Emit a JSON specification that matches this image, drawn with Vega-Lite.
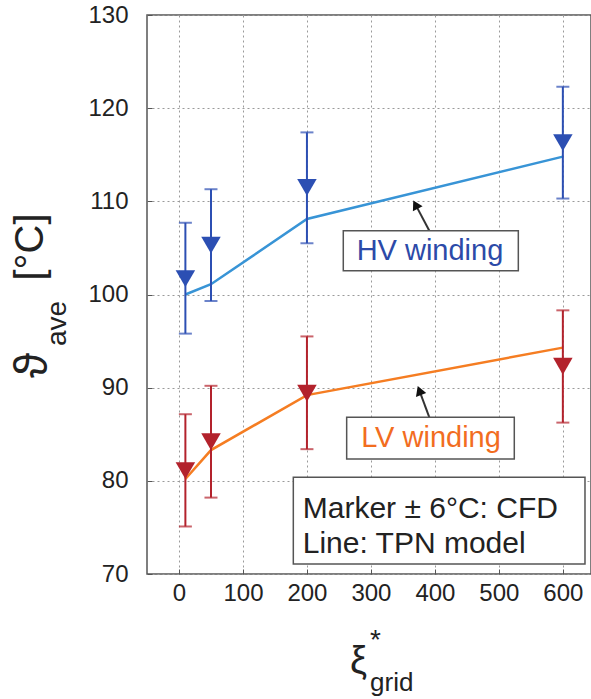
{
  "$schema": "https://vega.github.io/schema/vega-lite/v6.json",
  "width": 444,
  "height": 559,
  "autosize": "none",
  "padding": {"left": 147, "top": 15, "right": 0, "bottom": 125},
  "background": "white",
  "config": {
    "font": "Liberation Sans",
    "view": {"stroke": "#555", "strokeWidth": 1.5},
    "axis": {
      "domain": false,
      "grid": true,
      "gridDash": [2, 3],
      "gridColor": "#9a9a9a",
      "gridWidth": 1,
      "tickSize": -5,
      "tickColor": "#555",
      "labelFontSize": 24,
      "labelColor": "#222",
      "labelFont": "Liberation Sans"
    }
  },
  "datasets": {
    "cfd": [
      {"series": "HV", "xi": 10, "t": 101.7, "lo": 95.8, "hi": 107.7},
      {"series": "HV", "xi": 50, "t": 105.3, "lo": 99.3, "hi": 111.3},
      {"series": "HV", "xi": 200, "t": 111.5, "lo": 105.5, "hi": 117.4},
      {"series": "HV", "xi": 600, "t": 116.3, "lo": 110.3, "hi": 122.3},
      {"series": "LV", "xi": 10, "t": 81.1, "lo": 75.1, "hi": 87.15},
      {"series": "LV", "xi": 50, "t": 84.2, "lo": 78.2, "hi": 90.2},
      {"series": "LV", "xi": 200, "t": 89.4, "lo": 83.4, "hi": 95.5},
      {"series": "LV", "xi": 600, "t": 92.3, "lo": 86.25, "hi": 98.3}
    ],
    "tpn": [
      {"series": "HV", "xi": 10, "t": 100.0},
      {"series": "HV", "xi": 50, "t": 101.1},
      {"series": "HV", "xi": 200, "t": 108.1},
      {"series": "HV", "xi": 600, "t": 114.8},
      {"series": "LV", "xi": 10, "t": 80.2},
      {"series": "LV", "xi": 50, "t": 83.3},
      {"series": "LV", "xi": 200, "t": 89.2},
      {"series": "LV", "xi": 600, "t": 94.3}
    ],
    "boxes": [
      {"name": "HV", "x1": 256.8, "x2": 530.4, "y1": 102.55, "y2": 106.85},
      {"name": "LV", "x1": 262.1, "x2": 524.1, "y1": 82.34, "y2": 86.82},
      {"name": "legend", "x1": 178.7, "x2": 634.6, "y1": 71.07, "y2": 80.38}
    ],
    "arrows": [
      {"name": "HV", "x1": 391.3, "y1": 106.85, "x2": 369.7, "y2": 109.65, "angle": 332},
      {"name": "LV", "x1": 391.3, "y1": 86.82, "x2": 375.8, "y2": 89.69, "angle": 339.6}
    ],
    "boxtext": [
      {"label": "HV winding", "x": 392.3, "y": 104.7, "series": "HV"},
      {"label": "LV winding", "x": 393.9, "y": 84.6, "series": "LV"}
    ],
    "legendtext": [
      {"label": "Marker ± 6°C: CFD", "x": 193.4, "y": 76.0},
      {"label": "Line: TPN model", "x": 193.4, "y": 72.25}
    ]
  },
  "layer": [
    {
      "data": {"name": "tpn"},
      "mark": {"type": "line", "strokeWidth": 2.5, "clip": true},
      "encoding": {
        "x": {
          "field": "xi", "type": "quantitative",
          "scale": {"domain": [-50, 644], "nice": false, "zero": false},
          "axis": {"values": [0, 100, 200, 300, 400, 500, 600], "title": null, "labelPadding": 12}
        },
        "y": {
          "field": "t", "type": "quantitative",
          "scale": {"domain": [70, 130], "nice": false, "zero": false},
          "axis": {"values": [70, 80, 90, 100, 110, 120, 130], "title": null, "labelPadding": 24}
        },
        "detail": {"field": "series"},
        "color": {
          "field": "series", "type": "nominal",
          "scale": {"domain": ["HV", "LV"], "range": ["#3894d6", "#f57d22"]},
          "legend": null
        }
      }
    },
    {
      "data": {"name": "cfd"},
      "mark": {"type": "rule", "strokeWidth": 2},
      "encoding": {
        "x": {"field": "xi", "type": "quantitative", "title": null},
        "y": {"field": "lo", "type": "quantitative", "title": null},
        "y2": {"field": "hi"},
        "stroke": {
          "field": "series", "type": "nominal",
          "scale": {"domain": ["HV", "LV"], "range": ["#2c4fb3", "#b3222c"]},
          "legend": null
        }
      }
    },
    {
      "data": {"name": "cfd"},
      "mark": {"type": "tick", "orient": "horizontal", "size": 13, "thickness": 2},
      "encoding": {
        "x": {"field": "xi", "type": "quantitative", "title": null},
        "y": {"field": "lo", "type": "quantitative", "title": null},
        "fill": {
          "field": "series", "type": "nominal",
          "scale": {"domain": ["HV", "LV"], "range": ["#2c4fb3", "#b3222c"]},
          "legend": null
        }
      }
    },
    {
      "data": {"name": "cfd"},
      "mark": {"type": "tick", "orient": "horizontal", "size": 13, "thickness": 2},
      "encoding": {
        "x": {"field": "xi", "type": "quantitative", "title": null},
        "y": {"field": "hi", "type": "quantitative", "title": null},
        "fill": {
          "field": "series", "type": "nominal",
          "scale": {"domain": ["HV", "LV"], "range": ["#2c4fb3", "#b3222c"]},
          "legend": null
        }
      }
    },
    {
      "data": {"name": "cfd"},
      "mark": {"type": "point", "shape": "triangle-down", "filled": true, "size": 380, "opacity": 1, "strokeWidth": 0},
      "encoding": {
        "x": {"field": "xi", "type": "quantitative", "title": null},
        "y": {"field": "t", "type": "quantitative", "title": null},
        "fill": {
          "field": "series", "type": "nominal",
          "scale": {"domain": ["HV", "LV"], "range": ["#2c4fb3", "#b3222c"]},
          "legend": null
        }
      }
    },
    {
      "data": {"name": "arrows"},
      "mark": {"type": "rule", "strokeWidth": 2, "color": "#333"},
      "encoding": {
        "x": {"field": "x1", "type": "quantitative", "title": null},
        "y": {"field": "y1", "type": "quantitative", "title": null},
        "x2": {"field": "x2"},
        "y2": {"field": "y2"}
      }
    },
    {
      "data": {"name": "arrows"},
      "mark": {"type": "point", "shape": "triangle-up", "filled": true, "size": 120, "color": "#111", "opacity": 1},
      "encoding": {
        "x": {"field": "x2", "type": "quantitative", "title": null},
        "y": {"field": "y2", "type": "quantitative", "title": null},
        "angle": {"field": "angle", "type": "quantitative", "scale": null}
      }
    },
    {
      "data": {"name": "boxes"},
      "mark": {"type": "rect", "fill": "white", "stroke": "#555", "strokeWidth": 1.5},
      "encoding": {
        "x": {"field": "x1", "type": "quantitative", "title": null},
        "x2": {"field": "x2"},
        "y": {"field": "y1", "type": "quantitative", "title": null},
        "y2": {"field": "y2"}
      }
    },
    {
      "data": {"name": "boxtext"},
      "mark": {"type": "text", "fontSize": 29, "align": "center", "baseline": "middle", "font": "Liberation Sans"},
      "encoding": {
        "x": {"field": "x", "type": "quantitative", "title": null},
        "y": {"field": "y", "type": "quantitative", "title": null},
        "text": {"field": "label"},
        "fill": {
          "field": "series", "type": "nominal",
          "scale": {"domain": ["HV", "LV"], "range": ["#2c4aa8", "#f26d1f"]},
          "legend": null
        }
      }
    },
    {
      "data": {"name": "legendtext"},
      "mark": {"type": "text", "fontSize": 30, "align": "left", "baseline": "alphabetic", "color": "#222", "font": "Liberation Sans"},
      "encoding": {
        "x": {"field": "x", "type": "quantitative", "title": null},
        "y": {"field": "y", "type": "quantitative", "title": null},
        "text": {"field": "label"}
      }
    },
    {
      "data": {"values": [
        {"label": "ϑ", "x": -228, "y": 92.4, "size": 46},
        {"label": "ave", "x": -189, "y": 96.9, "size": 28},
        {"label": "[°C]", "x": -231.3, "y": 105.1, "size": 40}
      ]},
      "mark": {"type": "text", "angle": 270, "align": "center", "baseline": "middle", "color": "#222", "font": "Liberation Sans"},
      "encoding": {
        "x": {"field": "x", "type": "quantitative", "title": null},
        "y": {"field": "y", "type": "quantitative", "title": null},
        "text": {"field": "label"},
        "size": {"field": "size", "type": "quantitative", "scale": null}
      }
    },
    {
      "data": {"values": [
        {"label": "ξ", "x": 267.3, "y": 60.55, "size": 38},
        {"label": "*", "x": 298.6, "y": 62.8, "size": 28},
        {"label": "grid", "x": 298.6, "y": 58.3, "size": 26}
      ]},
      "mark": {"type": "text", "align": "left", "baseline": "middle", "color": "#222", "font": "Liberation Sans"},
      "encoding": {
        "x": {"field": "x", "type": "quantitative", "title": null},
        "y": {"field": "y", "type": "quantitative", "title": null},
        "text": {"field": "label"},
        "size": {"field": "size", "type": "quantitative", "scale": null}
      }
    }
  ],
  "resolve": {"scale": {"color": "independent", "fill": "independent", "stroke": "independent"}}
}
